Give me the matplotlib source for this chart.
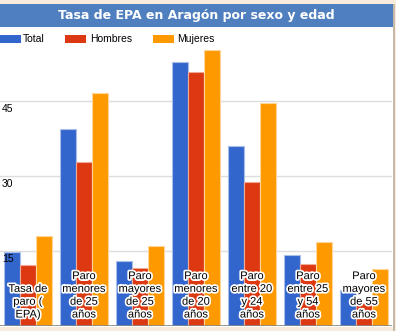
import numpy as np
import matplotlib
matplotlib.use("agg")
import matplotlib.pyplot as plt
import matplotlib.patheffects as pe
from matplotlib.patches import Rectangle

categories = ["Tasa de\nparo (\nEPA)", "Paro\nmenores\nde 25\naños", "Paro\nmayores\nde 25\naños",
              "Paro\nmenores\nde 20\naños", "Paro\nentre 20\ny 24\naños", "Paro\nentre 25\ny 54\naños",
              "Paro\nmayores\nde 55\naños"]
total = [14.8, 39.4, 13.0, 52.8, 36.0, 14.2, 7.3]
hombres = [12.2, 32.8, 11.6, 50.8, 28.8, 12.4, 4.6]
mujeres = [18.0, 46.6, 16.0, 55.2, 44.6, 16.8, 11.4]
series_names = ["Total", "Hombres", "Mujeres"]
colors = ["#3366cc", "#dc3912", "#ff9900"]
edges = ["#a9bfe9", "#f0a996", "#ffd699"]
yticks = [15, 30, 45]

W, H = 396, 331
fig = plt.figure(figsize=(W / 100, H / 100), dpi=100)
fig.patch.set_facecolor("#f6ebdd")

# white chart panel
fig.patches.append(Rectangle((0, 1 - 327 / H), 393 / W, 300 / H, transform=fig.transFigure,
                             facecolor="white", edgecolor="none", zorder=-2))
# right border
fig.patches.append(Rectangle((393 / W, 0), 2 / W, 1 - 4 / H, transform=fig.transFigure,
                             facecolor="#c8b8a8", edgecolor="none", zorder=-2))
# title bar
fig.patches.append(Rectangle((0, 1 - 27 / H), 393 / W, 23 / H, transform=fig.transFigure,
                             facecolor="#4f7fbf", edgecolor="none", zorder=-1))
fig.text(196 / W, 1 - 16 / H, "Tasa de EPA en Aragón por sexo y edad", color="white",
         fontsize=9, fontweight="bold", family="DejaVu Sans", ha="center", va="center")

# legend
box_x = [0, 65, 153]
text_x = [23, 90, 177]
for name, c, bx, tx in zip(series_names, colors, box_x, text_x):
    fig.patches.append(Rectangle((bx / W, 1 - 43 / H), 21 / W, 8 / H, transform=fig.transFigure,
                                 facecolor=c, edgecolor="none"))
    fig.text(tx / W, 1 - 39 / H, name, fontsize=7.5, family="Liberation Sans", va="center")

ax = fig.add_axes([0, 1 - 326 / H, 392 / W, 281 / H])
ax.set_zorder(2)
ax.set_facecolor("none")
x = np.arange(len(categories))
w = 0.29
for i, (vals, c, e) in enumerate(zip([total, hombres, mujeres], colors, edges)):
    ax.bar(x + (i - 1) * w, vals, width=w - 0.01, color=c, edgecolor=e, linewidth=0.8, zorder=2)

ax.set_xlim(-0.5, 6.5)
ax.set_ylim(0, 56.2)
for t in yticks:
    ax.axhline(t, color="#dddddd", linewidth=1, zorder=1)
    ax.text(0.005, t - 0.6, str(t), transform=ax.get_yaxis_transform(), fontsize=7.5,
            family="Liberation Sans", va="top", ha="left", zorder=4)
ax.axhline(0, color="#888888", linewidth=1.2, zorder=3)

for xi, lab in zip(x, categories):
    ax.text(xi, 1.3, lab, ha="center", va="bottom", fontsize=8, family="Liberation Sans",
            linespacing=1.35, zorder=5,
            path_effects=[pe.withStroke(linewidth=2.5, foreground="white")])

ax.set_xticks([])
ax.set_yticks([])
for s in ax.spines.values():
    s.set_visible(False)

fig.savefig("out.png", dpi=100)
